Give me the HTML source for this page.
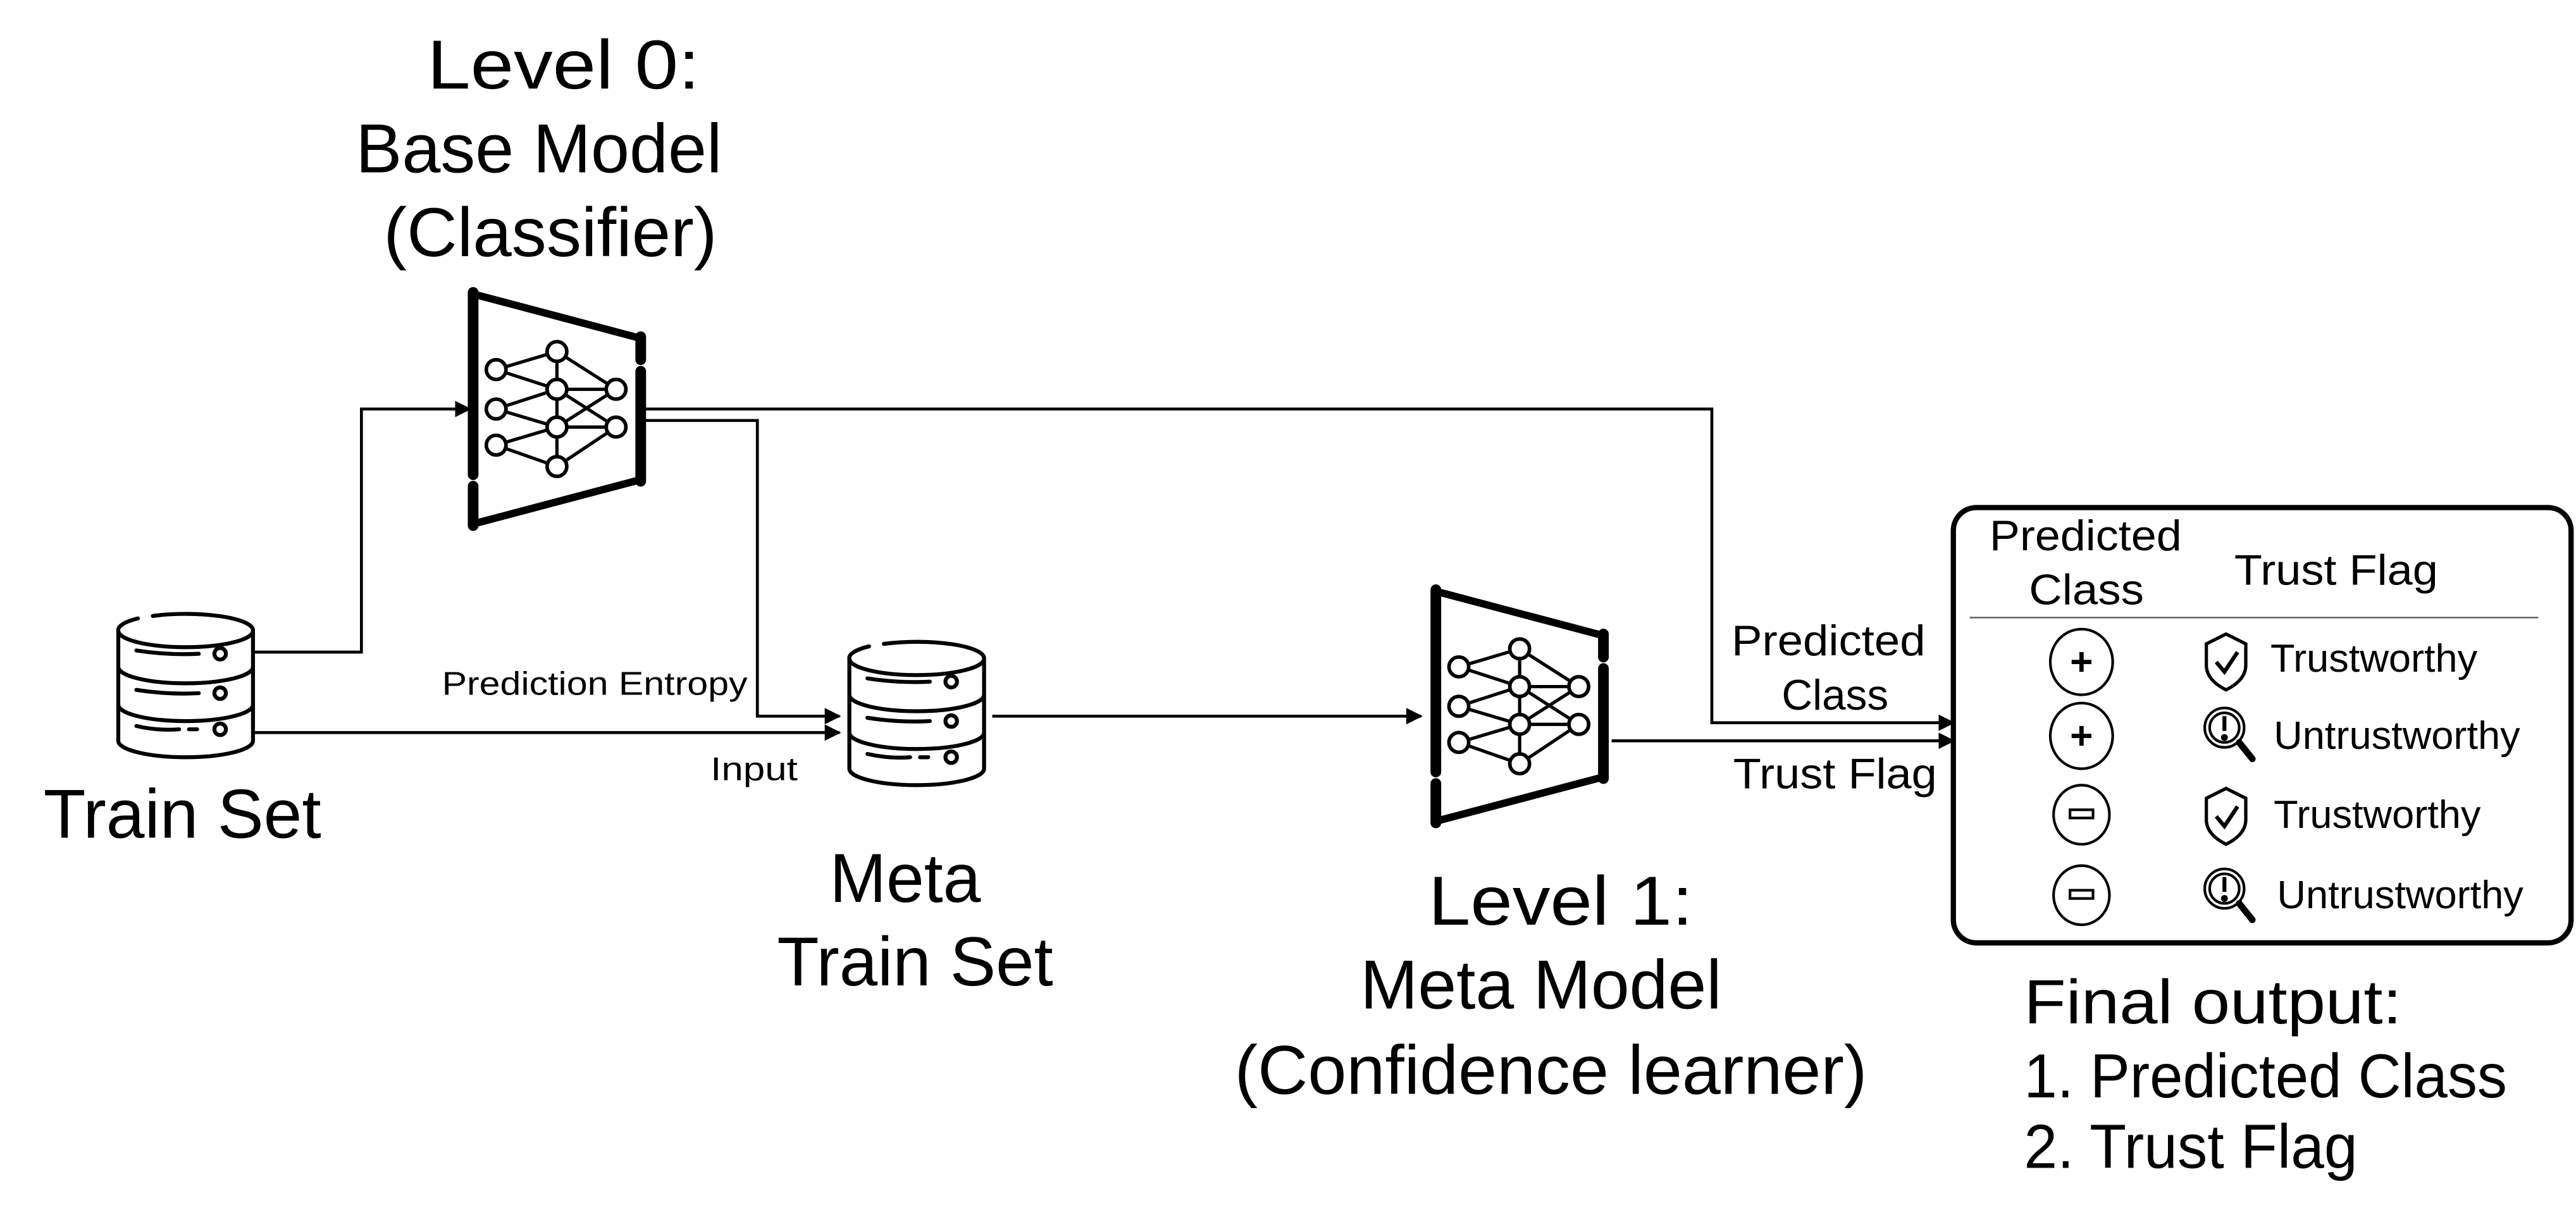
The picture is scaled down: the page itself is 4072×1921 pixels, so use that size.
<!DOCTYPE html>
<html><head><meta charset="utf-8"><style>
html,body{margin:0;padding:0;background:#fff;}
svg{display:block;}
text{font-family:"Liberation Sans",Arial,sans-serif;fill:#000;}
</style></head><body>
<svg width="4072" height="1921" viewBox="0 0 1568 739.7" preserveAspectRatio="none" xmlns="http://www.w3.org/2000/svg">
<defs>
<marker id="ar" markerWidth="10" markerHeight="10" refX="9" refY="5" orient="auto" markerUnits="userSpaceOnUse">
<path d="M0,0 L10,5 L0,10 z" fill="#000"/></marker>
<g id="db" fill="none" stroke="#000" stroke-width="2.4" stroke-linecap="round">
<path d="M12,3.5 A41,10 0 0 0 0,11 A41,10 0 0 0 82,11 A41,10 0 0 0 21,2"/>
<path d="M0,11 V78 A41,10 0 0 0 82,78 V11"/>
<path d="M0,33 A41,10 0 0 0 82,33"/>
<path d="M0,56 A41,10 0 0 0 82,56"/>
<path d="M11,23 Q30,26 49,25"/><circle cx="62" cy="25" r="3.5"/>
<path d="M11,47 Q30,50 49,49"/><circle cx="62" cy="49" r="3.5"/>
<path d="M11,69 Q24,72 37,71 M43,71 H48"/><circle cx="62" cy="71" r="3.5"/>
</g>
<g id="nn">
<g stroke="#000" stroke-linecap="round" fill="none">
<path d="M288,178 V289 M288,296 V320" stroke-width="6.5"/>
<path d="M390,205 V219 M390,226 V293" stroke-width="6.5"/>
<path d="M288,179 L390,206 M288,319 L390,292" stroke-width="4.5"/>
</g>
<g stroke="#000" stroke-width="2" fill="none">
<path d="M302,225 L339,214 M302,225 L339,237 M302,249 L339,237 M302,249 L339,260 M302,271 L339,260 M302,271 L339,284 M339,214 V284 M339,214 L375,237 M339,237 L375,237 M339,237 L375,260 M339,260 L375,237 M339,260 L375,260 M339,284 L375,260"/>
</g>
<g stroke="#000" stroke-width="2.2" fill="#fff">
<circle cx="302" cy="225" r="6"/><circle cx="302" cy="249" r="6"/><circle cx="302" cy="271" r="6"/>
<circle cx="339" cy="214" r="6"/><circle cx="339" cy="237" r="6"/><circle cx="339" cy="260" r="6"/><circle cx="339" cy="284" r="6"/>
<circle cx="375" cy="237" r="6"/><circle cx="375" cy="260" r="6"/>
</g>
</g>
<g id="shield" fill="none" stroke="#000" stroke-width="2">
<path d="M0,-16 L12,-10 V3 Q12,12 0,18 Q-12,12 -12,3 V-10 Z"/>
<path d="M-6,1 L-1,7 L7,-5" stroke-width="2.4"/>
</g>
<g id="mag" fill="none" stroke="#000" stroke-width="1.6">
<circle cx="-2" cy="-3" r="12"/><circle cx="-2" cy="-3" r="9"/>
<path d="M-2,-10 V-1" stroke-width="2.4"/><circle cx="-2" cy="3" r="1.3" fill="#000"/>
<path d="M7,6 L15,16" stroke-width="4" stroke-linecap="round"/>
</g>
</defs>

<!-- titles -->
<g font-size="42" text-anchor="middle">
<text x="343" y="54" textLength="166" lengthAdjust="spacingAndGlyphs">Level 0:</text>
<text x="328" y="105" textLength="223" lengthAdjust="spacingAndGlyphs">Base Model</text>
<text x="335" y="156" textLength="203" lengthAdjust="spacingAndGlyphs">(Classifier)</text>
<text x="111" y="510" textLength="169" lengthAdjust="spacingAndGlyphs">Train Set</text>
<text x="551" y="549" textLength="92" lengthAdjust="spacingAndGlyphs">Meta</text>
<text x="557" y="600" textLength="168" lengthAdjust="spacingAndGlyphs">Train Set</text>
<text x="950" y="563" textLength="161" lengthAdjust="spacingAndGlyphs">Level 1:</text>
<text x="938" y="614" textLength="220" lengthAdjust="spacingAndGlyphs">Meta Model</text>
<text x="944" y="666" textLength="385" lengthAdjust="spacingAndGlyphs">(Confidence learner)</text>
</g>
<g font-size="38">
<text x="1232" y="623" textLength="230" lengthAdjust="spacingAndGlyphs">Final output:</text>
<text x="1232" y="668" textLength="294" lengthAdjust="spacingAndGlyphs">1.  Predicted Class</text>
<text x="1232" y="711" textLength="203" lengthAdjust="spacingAndGlyphs">2.  Trust Flag</text>
</g>

<use href="#db" x="72" y="373"/>
<use href="#db" x="517" y="390"/>
<use href="#nn"/>
<use href="#nn" transform="translate(586,181)"/>

<!-- connectors -->
<g fill="none" stroke="#000" stroke-width="1.8">
<path d="M154,397 H220 V249 H286" marker-end="url(#ar)"/>
<path d="M154,446 H511" marker-end="url(#ar)"/>
<path d="M393,256 H461 V436 H511" marker-end="url(#ar)"/>
<path d="M393,249 H1042 V440 H1189" marker-end="url(#ar)"/>
<path d="M604,436 H865" marker-end="url(#ar)"/>
<path d="M981,451 H1189" marker-end="url(#ar)"/>
</g>
<g font-size="20" text-anchor="middle">
<text x="362" y="423" textLength="186" lengthAdjust="spacingAndGlyphs">Prediction Entropy</text>
<text x="459" y="475" textLength="53" lengthAdjust="spacingAndGlyphs">Input</text>
</g>
<g font-size="26" text-anchor="middle">
<text x="1113" y="399" textLength="118" lengthAdjust="spacingAndGlyphs">Predicted</text>
<text x="1117" y="432">Class</text>
<text x="1117" y="480" textLength="124" lengthAdjust="spacingAndGlyphs">Trust Flag</text>
</g>

<!-- output box -->
<rect x="1189" y="309" width="376" height="265" rx="14" fill="none" stroke="#000" stroke-width="3.2"/>
<line x1="1199" y1="376" x2="1545" y2="376" stroke="#666" stroke-width="1"/>
<g font-size="26">
<text x="1211" y="335" textLength="117" lengthAdjust="spacingAndGlyphs">Predicted</text>
<text x="1235" y="368" textLength="70" lengthAdjust="spacingAndGlyphs">Class</text>
<text x="1360" y="356" textLength="124" lengthAdjust="spacingAndGlyphs">Trust Flag</text>
</g>
<g fill="none" stroke="#000" stroke-width="1.6">
<ellipse cx="1267" cy="403" rx="19" ry="20"/>
<ellipse cx="1267" cy="448" rx="19" ry="20"/>
<ellipse cx="1267" cy="496" rx="17" ry="18"/>
<ellipse cx="1267" cy="545" rx="17" ry="18"/>
<path d="M1261,403 H1273 M1267,397 V409" stroke-width="2.6"/>
<path d="M1261,448 H1273 M1267,442 V454" stroke-width="2.6"/>
<rect x="1260" y="493" width="14" height="5"/>
<rect x="1260" y="542" width="14" height="5"/>
</g>
<use href="#shield" x="1355" y="402"/>
<use href="#shield" x="1355" y="496"/>
<use href="#mag" x="1356" y="446"/>
<use href="#mag" x="1356" y="544"/>
<g font-size="24">
<text x="1382" y="409" textLength="126" lengthAdjust="spacingAndGlyphs">Trustworthy</text>
<text x="1384" y="456" textLength="150" lengthAdjust="spacingAndGlyphs">Untrustworthy</text>
<text x="1384" y="504" textLength="126" lengthAdjust="spacingAndGlyphs">Trustworthy</text>
<text x="1386" y="553" textLength="150" lengthAdjust="spacingAndGlyphs">Untrustworthy</text>
</g>
</svg>
</body></html>
